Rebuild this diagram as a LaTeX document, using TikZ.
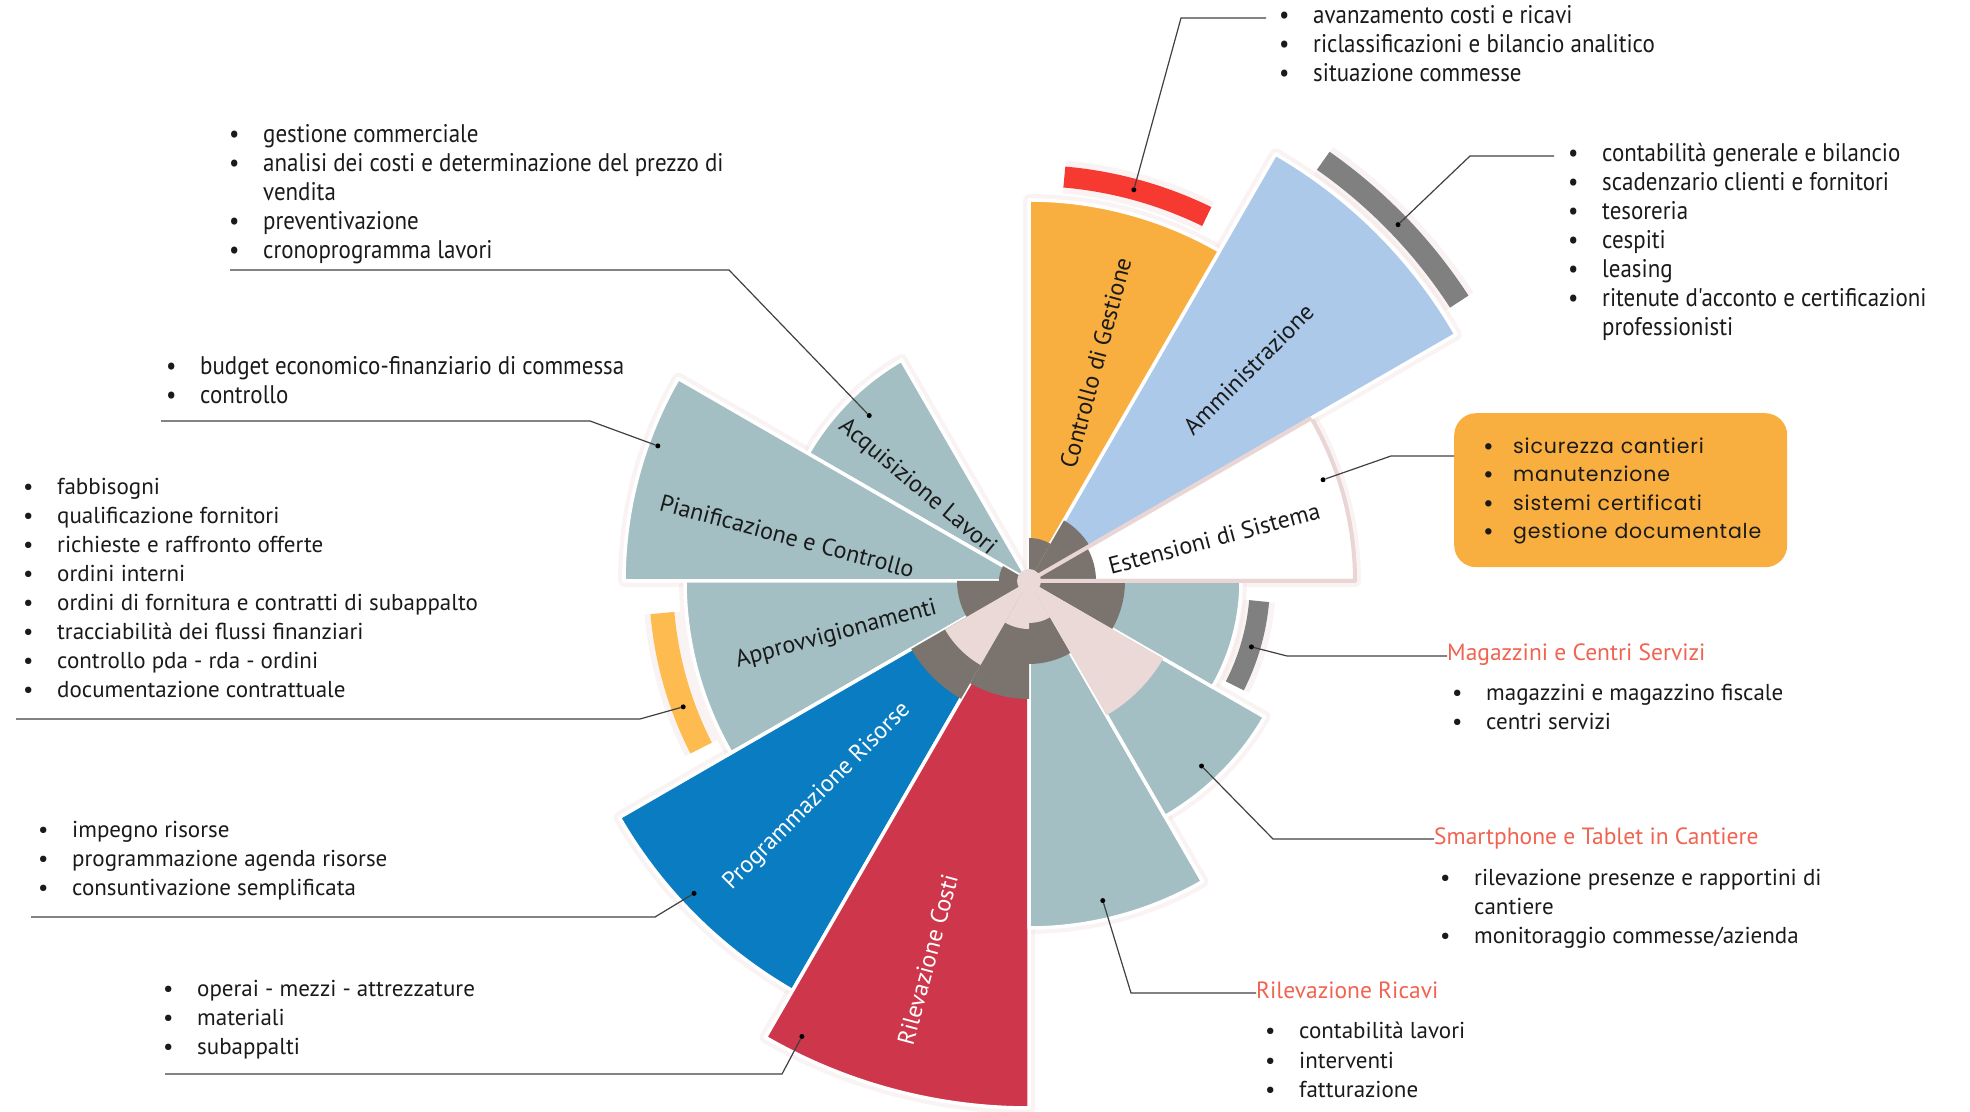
\documentclass[tikz,border=0pt]{standalone}
\usepackage{fontspec}
\setmainfont{PT Sans}
\newfontfamily\strettofont{PT Sans}[FakeStretch=0.9]
\newfontfamily\boxfont{Poppins}[LetterSpace=4]
\usetikzlibrary{positioning}
\definecolor{verdeacqua}{RGB}{163,191,195}
\definecolor{arancio}{RGB}{249,175,64}
\definecolor{celeste}{RGB}{173,201,233}
\definecolor{blu}{RGB}{10,124,194}
\definecolor{rosso}{RGB}{205,54,75}
\definecolor{grigiohub}{RGB}{123,115,110}
\definecolor{rosahub}{RGB}{234,217,215}
\definecolor{bordorosa}{RGB}{233,214,212}
\definecolor{rossobar}{RGB}{246,58,50}
\definecolor{grigiobar}{RGB}{128,128,129}
\definecolor{giallobar}{RGB}{253,187,80}
\definecolor{salmone}{RGB}{241,99,80}
\definecolor{ombra}{RGB}{236,218,216}
\definecolor{testo}{RGB}{26,26,26}
\newcommand{\pallino}{\makebox[34pt][l]{\textbullet}}
\newcommand{\pallone}{\makebox[30pt][l]{\raisebox{-2pt}{\fontsize{26}{26}\selectfont\textbullet}}}

\begin{document}
\begin{tikzpicture}[x=1pt,y=1pt,
  settore/.style={draw=white, line width=3.5, line join=round},
  alone/.style={draw=ombra, line width=12, line join=round, opacity=0.3},
  guida/.style={draw=black!75, line width=1.2},
  punto/.style={circle, fill=black, inner sep=0pt, minimum size=5},
  etichetta/.style={font=\fontsize{24}{24}\selectfont, inner sep=0pt, text=testo},
  elenco/.style={anchor=base west, inner sep=0pt, font=\fontsize{23}{29}\selectfont, text=testo},
  stretto/.style={elenco, font=\strettofont\fontsize{25.5}{29}\selectfont},
  titolo/.style={anchor=base west, inner sep=0pt, font=\fontsize{23.5}{29}\selectfont, text=salmone},
  riquadro/.style={anchor=north west, fill=arancio, rounded corners=22, text width=275, align=left,
    minimum height=154, inner xsep=29, inner ysep=0, font=\boxfont\fontsize{20.5}{28.5}\selectfont, text=testo}]
\useasboundingbox (0,0) rectangle (1970,1111);

\begin{scope}[shift={(1029,530)}]
% alone rosa
\foreach \a/\b/\r in {0/30/326, 30/60/493, 60/90/381, 120/150/255, 150/180/405, 180/210/344,
  210/240/473, 240/270/527, 270/300/347, 300/330/272, 330/360/212}
  \draw[alone] (0,0) -- (\a:\r) arc[start angle=\a, end angle=\b, radius=\r] -- cycle;
\foreach \a/\b/\r/\w in {64/85/405.5/21, 33/55/513/22, 185/207/368/24, 333/355/231/20}
  \draw[ombra, opacity=0.3, line width=\w+12] (\a:\r) arc[start angle=\a, end angle=\b, radius=\r];

% settori
\filldraw[fill=white, draw=bordorosa, line width=4, line join=round] (0,0) -- (0:326) arc[start angle=0, end angle=30, radius=326] -- cycle;
\foreach \a/\b/\r/\c in {30/60/493/celeste, 60/90/381/arancio, 120/150/255/verdeacqua,
  150/180/405/verdeacqua, 180/210/344/verdeacqua, 210/240/473/blu, 240/270/527/rosso,
  270/300/347/verdeacqua, 300/330/272/verdeacqua, 330/360/212/verdeacqua}
  \filldraw[settore, fill=\c] (0,0) -- (\a:\r) arc[start angle=\a, end angle=\b, radius=\r] -- cycle;

% mozzo
\foreach \a/\b/\r in {0/30/67, 30/60/70, 60/90/43, 150/180/30, 180/210/72, 210/240/136,
  240/270/118, 270/300/83, 330/360/96}
  \fill[grigiohub] (0,0) -- (\a:\r) arc[start angle=\a, end angle=\b, radius=\r] -- cycle;
\foreach \a/\b/\r in {210/240/97, 240/270/48, 270/300/42, 300/330/155}
  \fill[rosahub] (0,0) -- (\a:\r) arc[start angle=\a, end angle=\b, radius=\r] -- cycle;
\draw[bordorosa, line width=4] (0:326) -- (0,0) -- (30:326);
\fill[rosahub] (0,0) circle (12);

% barre
\draw[rossobar, line width=21] (64:405.5) arc[start angle=64, end angle=85, radius=405.5];
\draw[grigiobar, line width=22] (33:513) arc[start angle=33, end angle=55, radius=513];
\draw[giallobar, line width=24] (185:368) arc[start angle=185, end angle=207, radius=368];
\draw[grigiobar, line width=20] (333:231) arc[start angle=333, end angle=355, radius=231];

% etichette
\node[etichetta, rotate=75] (t-cdg) at (73:228) {Controllo di Gestione};
\node[etichetta, rotate=45] (t-amm) at (44:305) {Amministrazione};
\node[etichetta, rotate=-40] (t-acq) at (140:146) {Acquisizione Lavori};
\node[etichetta, rotate=-15] (t-pia) at (169.5:246) {Pianificazione e Controllo};
\node[etichetta, rotate=15] (t-app) at (195.5:200) {Approvvigionamenti};
\node[etichetta, rotate=45, text=white] (t-pro) at (225.5:302) {Programmazione Risorse};
\node[etichetta, rotate=75, text=white] (t-ril) at (255:392) {Rilevazione Costi};
\node[etichetta, rotate=15] (t-est) at (13:190) {Estensioni di Sistema};

% punti
\node[punto] (p-cdg) at (75:405) {};
\node[punto] (p-amm) at (44:513) {};
\node[punto] (p-acq) at (134:230) {};
\node[punto] (p-pia) at (160:395) {};
\node[punto] (p-app) at (200:368) {};
\node[punto] (p-pro) at (223:458) {};
\node[punto] (p-ril) at (243.5:509) {};
\node[punto] (p-est) at (19:311) {};
\node[punto] (p-mag) at (343.5:232) {};
\node[punto] (p-sma) at (313:253) {};
\node[punto] (p-rir) at (283:328) {};
\end{scope}

% elenchi
\node[stretto] (l-cdg) at (1279,1087) {\begin{tabular}[t]{@{}l@{}}
  \pallino avanzamento costi e ricavi\\
  \pallino riclassificazioni e bilancio analitico\\
  \pallino situazione commesse\end{tabular}};
\node[stretto] (l-amm) at (1568,949) {\begin{tabular}[t]{@{}l@{}}
  \pallino contabilità generale e bilancio\\
  \pallino scadenzario clienti e fornitori\\
  \pallino tesoreria\\
  \pallino cespiti\\
  \pallino leasing\\
  \pallino ritenute d'acconto e certificazioni\\
  \hspace*{34pt}professionisti\end{tabular}};
\node[stretto] (l-acq) at (229,968) {\begin{tabular}[t]{@{}l@{}}
  \pallino gestione commerciale\\
  \pallino analisi dei costi e determinazione del prezzo di\\
  \hspace*{34pt}vendita\\
  \pallino preventivazione\\
  \pallino cronoprogramma lavori\end{tabular}};
\node[stretto] (l-pia) at (166,736) {\begin{tabular}[t]{@{}l@{}}
  \pallino budget economico-finanziario di commessa\\
  \pallino controllo\end{tabular}};
\node[elenco] (l-app) at (23,616) {\begin{tabular}[t]{@{}l@{}}
  \pallino fabbisogni\\
  \pallino qualificazione fornitori\\
  \pallino richieste e raffronto offerte\\
  \pallino ordini interni\\
  \pallino ordini di fornitura e contratti di subappalto\\
  \pallino tracciabilità dei flussi finanziari\\
  \pallino controllo pda - rda - ordini\\
  \pallino documentazione contrattuale\end{tabular}};
\node[elenco] (l-pro) at (38,273) {\begin{tabular}[t]{@{}l@{}}
  \pallino impegno risorse\\
  \pallino programmazione agenda risorse\\
  \pallino consuntivazione semplificata\end{tabular}};
\node[elenco] (l-ril) at (163,114) {\begin{tabular}[t]{@{}l@{}}
  \pallino operai - mezzi - attrezzature\\
  \pallino materiali\\
  \pallino subappalti\end{tabular}};
\node[titolo] (h-mag) at (1447,450) {Magazzini e Centri Servizi};
\node[elenco] (l-mag) at (1452,410) {\begin{tabular}[t]{@{}l@{}}
  \pallino magazzini e magazzino fiscale\\
  \pallino centri servizi\end{tabular}};
\node[titolo] (h-sma) at (1434,266) {Smartphone e Tablet in Cantiere};
\node[elenco] (l-sma) at (1440,225) {\begin{tabular}[t]{@{}l@{}}
  \pallino rilevazione presenze e rapportini di\\
  \hspace*{34pt}cantiere\\
  \pallino monitoraggio commesse/azienda\end{tabular}};
\node[titolo] (h-rir) at (1256,112) {Rilevazione Ricavi};
\node[elenco] (l-rir) at (1265,72) {\begin{tabular}[t]{@{}l@{}}
  \pallino contabilità lavori\\
  \pallino interventi\\
  \pallino fatturazione\end{tabular}};
\node[riquadro] (box) at (1454,698) {\begin{tabular}{@{}l@{}}
  \pallone sicurezza cantieri\\
  \pallone manutenzione\\
  \pallone sistemi certificati\\
  \pallone gestione documentale\end{tabular}};

% linee di richiamo
\draw[guida] (p-cdg) -- (1181,1093) -- (1266,1093);
\draw[guida] (p-amm) -- (1470,955) -- (1554,955);
\draw[guida] (p-acq) -- (729,841) -- (230,841);
\draw[guida] (p-pia) -- (590,690) -- (161,690);
\draw[guida] (p-app) -- (640,392) -- (16,392);
\draw[guida] (p-pro) -- (655,194) -- (31,194);
\draw[guida] (p-ril) -- (782,37) -- (165,37);
\draw[guida] (p-est) -- (1391,655) -- (box.west |- 1391,655);
\draw[guida] (p-mag) -- (1287,455) -- (h-mag.west |- 1287,455);
\draw[guida] (p-sma) -- (1273,272) -- (h-sma.west |- 1273,272);
\draw[guida] (p-rir) -- (1131,118) -- (h-rir.west |- 1131,118);
\end{tikzpicture}
\end{document}
